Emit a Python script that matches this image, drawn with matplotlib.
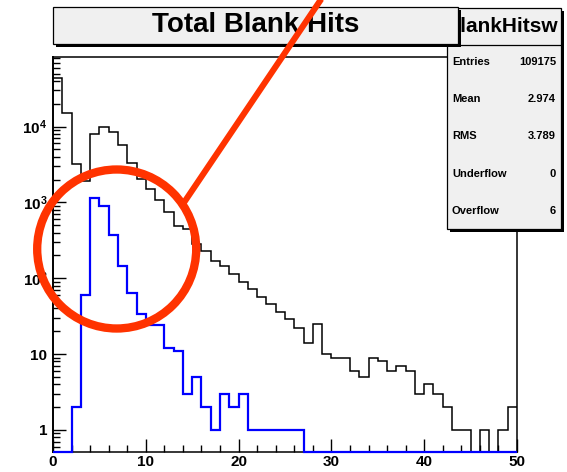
import numpy as np
import matplotlib
matplotlib.use("Agg")
import matplotlib.pyplot as plt
from matplotlib.patches import Rectangle, Circle
from matplotlib.lines import Line2D
from matplotlib.ticker import FixedLocator, LogLocator, MultipleLocator, NullFormatter

W, H = 567, 472

plt.rcParams["font.family"] = ["Liberation Sans", "DejaVu Sans"]
plt.rcParams["mathtext.fontset"] = "custom"
plt.rcParams["mathtext.rm"] = "Liberation Sans:bold"
plt.rcParams["mathtext.it"] = "Liberation Sans:bold"
plt.rcParams["mathtext.bf"] = "Liberation Sans:bold"
plt.rcParams["mathtext.default"] = "regular"

# --- histogram contents, 50 bins of width 1 from 0 to 50 ---
bin_edges = np.arange(0, 51)
total_hits = [44000, 15000, 3260, 1900, 7940, 9900, 8510, 5690, 3360, 2030,
              1500, 1070, 755, 493, 447, 284, 231, 171, 147, 114,
              89, 72, 56, 46, 36, 29, 22, 14, 25, 10,
              9, 9, 6, 5, 9, 8, 6, 7, 6, 3,
              4, 3, 2, 1, 1, 0, 1, 0, 1, 2]
blank_hits = [0, 0, 2, 60, 1130, 905, 376, 144, 63, 34,
              24, 24, 12, 11, 3, 5, 2, 1, 3, 2,
              3, 1, 1, 1, 1, 1, 1, 0, 0, 0,
              0, 0, 0, 0, 0, 0, 0, 0, 0, 0,
              0, 0, 0, 0, 0, 0, 0, 0, 0, 0]

y_ticks = [1, 10, 100, 1000, 10000]
y_tick_labels = ["1", "10", "$10^{2}$", "$10^{3}$", "$10^{4}$"]
x_ticks = [0, 10, 20, 30, 40, 50]

hist_title = "Total Blank Hits"
stats_name = "BlankHitsw"
stat_names = ["Entries", "Mean", "RMS", "Underflow", "Overflow"]
stat_values = ["109175", "2.974", "3.789", "0", "6"]

YMIN, YMAX = 0.51, 8.3e4


def fx(x):
    return x / W


def fy(y):
    return 1 - y / H


def on_floor(v):
    # empty bins sit on the bottom of the frame, like ROOT does on log scale
    v = np.asarray(v, dtype=float)
    return np.where(v > 0, v, YMIN)


fig = plt.figure(figsize=(W / 100, H / 100), dpi=100)
fig.patch.set_facecolor("white")
ax = fig.add_axes([fx(53), fy(452), (517 - 53) / W, (452 - 57) / H])

ax.stairs(on_floor(total_hits), bin_edges, baseline=None, color="black",
          lw=1.1, zorder=2)
ax.stairs(on_floor(blank_hits), bin_edges, baseline=None, color="#0000ff",
          lw=1.6, zorder=3, clip_on=False)

ax.set_xlim(0, 50)
ax.set_yscale("log")
ax.set_ylim(YMIN, YMAX)

ax.xaxis.set_major_locator(FixedLocator(x_ticks))
ax.xaxis.set_minor_locator(MultipleLocator(2))
ax.set_xticklabels([str(t) for t in x_ticks], fontsize=11, fontweight="bold")

ax.yaxis.set_major_locator(FixedLocator(y_ticks))
ax.yaxis.set_minor_locator(LogLocator(base=10, subs=np.arange(2, 10)))
ax.yaxis.set_minor_formatter(NullFormatter())
ax.set_yticklabels(y_tick_labels, fontsize=11, fontweight="bold")

ax.tick_params(which="both", direction="in", top=False, right=False, width=1.0)
ax.tick_params(which="major", length=9.5)
ax.tick_params(which="minor", length=5)
ax.tick_params(axis="x", pad=2)
ax.tick_params(axis="y", pad=4)
for side in ax.spines.values():
    side.set_linewidth(1.1)
ax.spines["left"].set_linewidth(1.4)


def pave(x0, y0, x1, y1, z):
    # grey ROOT box with a dark drop shadow
    fig.add_artist(Rectangle((fx(x0 + 3), fy(y1 + 3)), (x1 - x0) / W, (y1 - y0) / H,
                             transform=fig.transFigure, facecolor="black",
                             edgecolor="none", zorder=z))
    fig.add_artist(Rectangle((fx(x0), fy(y1)), (x1 - x0) / W, (y1 - y0) / H,
                             transform=fig.transFigure, facecolor="#f0f0f0",
                             edgecolor="black", lw=0.9, zorder=z + 0.1))


# stats box
pave(447, 8, 561, 229, 5)
fig.add_artist(Line2D([fx(447), fx(561)], [fy(45), fy(45)], transform=fig.transFigure,
                      color="black", lw=0.9, zorder=5.2))
fig.text(fx(558), fy(32), stats_name, fontsize=15, fontweight="bold",
         ha="right", va="baseline", zorder=5.3)
for i, (name, val) in enumerate(zip(stat_names, stat_values)):
    yy = 62 + i * 37.2
    fig.text(fx(452), fy(yy), name, fontsize=8, fontweight="bold",
             ha="left", va="center", zorder=5.3)
    fig.text(fx(556), fy(yy), val, fontsize=8, fontweight="bold",
             ha="right", va="center", zorder=5.3)

# title box on top of the stats box
pave(53, 7, 458, 44, 6)
fig.text(fx(255.5), fy(32.5), hist_title, fontsize=20, fontweight="bold",
         ha="center", va="baseline", zorder=6.3)

# red circle and pointer
red = "#ff3300"
fig.add_artist(Circle((116.7 / 100, (H - 249) / 100), 79.5 / 100,
                      transform=fig.dpi_scale_trans, fill=False,
                      edgecolor=red, lw=6, zorder=10))
fig.add_artist(Line2D([183 / 100, 326 / 100], [(H - 204) / 100, (H + 8) / 100],
                      transform=fig.dpi_scale_trans, color=red, lw=4.4,
                      solid_capstyle="butt", zorder=10))

fig.savefig("out.png", dpi=100)
